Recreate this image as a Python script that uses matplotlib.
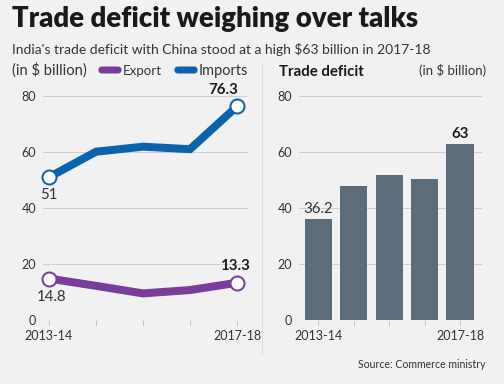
import matplotlib
matplotlib.use("Agg")
import matplotlib.pyplot as plt
from matplotlib.patches import FancyBboxPatch

# data (in $ billion)
years = ["2013-14", "2014-15", "2015-16", "2016-17", "2017-18"]
imports = [51, 60.1, 61.9, 61.0, 76.3]
exports = [14.8, 12.2, 9.5, 10.7, 13.3]
deficit = [36.2, 47.8, 51.9, 50.5, 63]
yticks = [0, 20, 40, 60, 80]

BG = "#f1f1f1"
BLUE = "#0b63ad"
PURPLE = "#7a3d9a"
BAR = "#5c6c7a"
GRID = "#cfcfcf"
TXT = "#333333"
DARK = "#1a1a1a"

plt.rcParams["font.family"] = ["Lato", "DejaVu Sans"]

W, H = 504, 384
fig = plt.figure(figsize=(W / 72, H / 72), dpi=72, facecolor=BG)
renderer = fig.canvas.get_renderer()


def ftext(x, y, s, width=None, **kw):
    """place text at pixel coords (from top-left); optionally fit to a pixel width"""
    t = fig.text(x / W, 1 - y / H, s, va="baseline", **kw)
    if width:
        w = t.get_window_extent(renderer).width
        t.set_fontsize(t.get_fontsize() * width / w)
    return t


ftext(12, 27, "Trade deficit weighing over talks", width=406,
      fontsize=26, fontweight="heavy", color=DARK)
ftext(12, 54, "India's trade deficit with China stood at a high $63 billion in 2017-18",
      width=420, fontsize=15, color=TXT)

# legend row
ftext(12, 75, "(in $ billion)", width=75, fontsize=13, color=TXT)
for x0, col, lab, lw in [(99, PURPLE, "Export", 39), (175, BLUE, "Imports", 49)]:
    fig.patches.append(FancyBboxPatch((x0 / W, 1 - 73 / H), 22 / W, 6 / H,
                                      boxstyle="round,pad=0,rounding_size=0.006",
                                      transform=fig.transFigure, color=col))
    ftext(x0 + 24, 75, lab, width=lw, fontsize=13, color=TXT)
ftext(279, 76, "Trade deficit", width=85, fontsize=14, fontweight="bold", color=DARK)
ftext(419, 75, "(in $ billion)", width=67, fontsize=13, color=TXT)

# separator
fig.add_artist(plt.Line2D([262 / W, 262 / W], [1 - 62 / H, 1 - 355 / H],
                          transform=fig.transFigure, color="#d0d0d0", lw=1, ls=(0, (1, 1))))


def style(ax, xlim):
    ax.set_facecolor(BG)
    ax.set_xlim(*xlim)
    ax.set_ylim(0, 80)
    for s in ax.spines.values():
        s.set_visible(False)
    ax.set_yticks(yticks)
    ax.set_yticklabels([str(v) for v in yticks], fontsize=12.5, color=TXT)
    ax.tick_params(axis="y", length=0, pad=7)
    ax.set_xticks(range(len(years)))
    ax.set_xticklabels([years[0], "", "", "", years[-1]], fontsize=12.5, color=TXT)
    ax.tick_params(axis="x", length=6, color="#bdbdbd", pad=4)
    for v in yticks:
        ax.axhline(v, color="#bdbdbd" if v == 0 else GRID, lw=1, zorder=0)


# left: line chart
ax1 = fig.add_axes([43 / W, 64 / H, 205 / W, 224 / H])
style(ax1, (-0.128, 4.234))
x = range(len(years))
ax1.plot(x, imports, color=BLUE, lw=8, solid_joinstyle="miter", zorder=3, clip_on=False)
ax1.plot(x, exports, color=PURPLE, lw=8, solid_joinstyle="miter", zorder=3, clip_on=False)
for series, col in [(imports, BLUE), (exports, PURPLE)]:
    ax1.plot([0, 4], [series[0], series[-1]], "o", ms=14, mfc="white", mec=col,
             mew=2, zorder=4, clip_on=False)
ax1.text(0, imports[0] - 4, f"{imports[0]:g}", ha="center", va="top", fontsize=15, color=TXT)
ax1.text(3.7, imports[-1] + 3.5, f"{imports[-1]:g}", ha="center", va="bottom",
         fontsize=15, fontweight="bold", color=DARK)
ax1.text(0.05, exports[0] - 4, f"{exports[0]:g}", ha="center", va="top", fontsize=15, color=TXT)
ax1.text(3.95, exports[-1] + 3.5, f"{exports[-1]:g}", ha="center", va="bottom",
         fontsize=15, fontweight="bold", color=DARK)

# right: bar chart
ax2 = fig.add_axes([299 / W, 64 / H, 183 / W, 224 / H])
style(ax2, (-0.55, 4.62))
ax2.bar(range(len(years)), deficit, width=0.77, color=BAR, zorder=2)
ax2.text(0, deficit[0] + 0.8, f"{deficit[0]:g}", ha="center", va="bottom", fontsize=15, color=TXT)
ax2.text(4, deficit[-1] + 0.8, f"{deficit[-1]:g}", ha="center", va="bottom",
         fontsize=15, fontweight="bold", color=DARK)

ftext(358, 368, "Source: Commerce ministry", width=128, fontsize=12, color=TXT)

fig.savefig("out.png", dpi=72, facecolor=BG)
